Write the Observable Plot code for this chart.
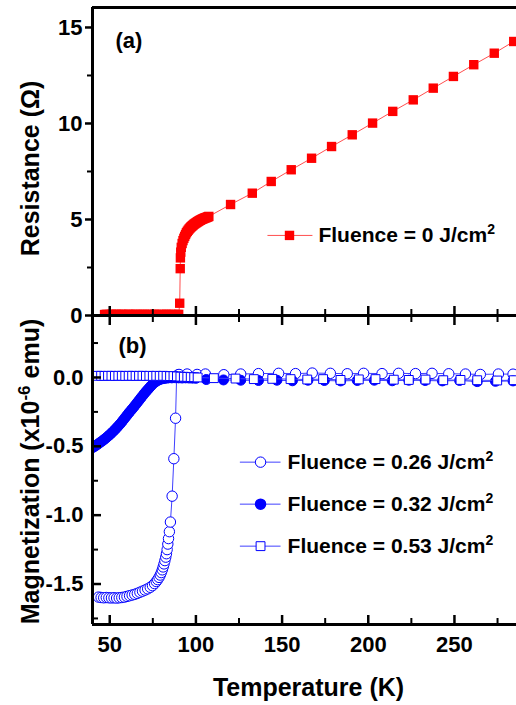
<!DOCTYPE html>
<html><head><meta charset="utf-8">
<script src="https://cdn.jsdelivr.net/npm/d3@7"></script>
<script src="https://cdn.jsdelivr.net/npm/@observablehq/plot@0.6"></script>
<style>
body{margin:0;background:#fff;}
#wrap{position:relative;width:516px;height:705px;overflow:hidden;background:#fff;}
#wrap svg{position:absolute;left:0;}
</style></head><body><div id="wrap"></div>
<script>
// ---------- DATA (Temperature K, value) ----------
// Panel (a): Resistance (Ohm), Fluence = 0 J/cm2
const fluence0 = [
 [47,0.05],[48,0.06],[49,0.05],[50,0.05],[51,0.06],[52,0.05],[53,0.05],[54,0.06],[55,0.05],[56,0.05],
 [57,0.06],[58,0.05],[59,0.05],[60,0.05],[61,0.06],[62,0.05],[63,0.05],[64,0.05],[65,0.06],[66,0.05],
 [67,0.05],[68,0.05],[69,0.05],[70,0.06],[71,0.05],[72,0.05],[73,0.05],[74,0.05],[75,0.05],[76,0.06],
 [77,0.05],[78,0.05],[79,0.05],[80,0.05],[81,0.05],[82,0.05],[83,0.06],[84,0.05],[85,0.05],[86,0.05],
 [87,0.05],[88,0.05],[89,0.05],[90,0.06],
 [90.6,0.64],[90.9,2.44],[91.0,3.0],[91.2,3.3],[91.5,3.55],[92,3.75],[92.5,3.9],[93,4.02],[93.5,4.12],
 [94,4.22],[94.5,4.31],[95,4.38],[95.5,4.44],[96,4.5],[96.5,4.55],[97,4.6],[97.5,4.64],[98,4.68],
 [98.5,4.72],[99,4.76],[99.5,4.79],[100,4.82],[100.5,4.85],[101,4.88],[101.5,4.91],[102,4.94],
 [102.5,4.96],[103,4.99],[103.5,5.01],[104,5.03],[104.5,5.05],[105,5.07],[105.5,5.09],[106,5.1],
 [106.5,5.12],[107,5.14],[107.5,5.16],
 [120.1,5.78],[132.7,6.37],[143.7,6.98],[155.3,7.59],[167.1,8.19],[178.7,8.80],[190.7,9.41],
 [202.5,10.02],[214.2,10.63],[226.1,11.23],[237.7,11.84],[249.4,12.45],[261.2,13.06],[273.1,13.66],[284.4,14.27]
];
// Panel (b): Magnetization (x1e-6 emu)
const fluence026 = [
 [43.5,-1.595],[45,-1.598],[46.5,-1.6],[48,-1.598],[49.5,-1.6],[51,-1.601],[52.5,-1.6],[54,-1.602],
 [55.5,-1.6],[57,-1.598],[58.5,-1.595],[60,-1.59],[61.5,-1.585],[63,-1.58],[64.5,-1.575],[66,-1.568],
 [67.5,-1.56],[69,-1.552],[70.5,-1.544],[72,-1.535],[73.5,-1.524],[74.8,-1.512],[76,-1.497],[77,-1.482],
 [77.8,-1.468],[78.6,-1.452],[79.3,-1.435],[79.9,-1.417],[80.5,-1.397],[81,-1.376],[81.5,-1.354],
 [82,-1.33],[82.5,-1.305],[82.9,-1.28],[83.3,-1.25],[83.7,-1.21],[84.1,-1.17],[84.6,-1.12],[85.2,-1.05],
 [86.2,-0.862],[87.2,-0.59],[88.2,-0.296],[88.8,0.005],[89.5,0.018],[90.2,0.022],[94.9,0.025],
 [100.7,0.022],[105.5,0.025],[116.2,0.02],[126,0.025],[136.3,0.028],[148,0.03],[157.8,0.028],
 [167.5,0.032],[178,0.03],[187.8,0.027],[197.3,0.03],[208,0.028],[217.6,0.03],[227.4,0.028],[237,0.03],
 [246.7,0.027],[256.4,0.025],[265,0.022],[275.5,0.025],[284,0.024]
];
const fluence032 = [
 [40,-0.51],[41,-0.502],[42,-0.494],[43,-0.485],[44,-0.476],[45,-0.467],[46,-0.458],[47,-0.448],
 [48,-0.438],[49,-0.427],[50,-0.416],[51,-0.404],[52,-0.392],[53,-0.379],[54,-0.366],[55,-0.352],
 [56,-0.338],[57,-0.323],[58,-0.307],[59,-0.291],[60,-0.275],[61,-0.259],[62,-0.244],[63,-0.229],
 [64,-0.214],[65,-0.198],[66,-0.182],[67,-0.166],[68,-0.15],[69,-0.134],[70,-0.118],[71,-0.103],
 [72,-0.089],[73,-0.075],[74,-0.061],[75,-0.047],[76,-0.036],[77,-0.028],[78,-0.021],[79,-0.015],
 [80,-0.011],[81,-0.008],[82,-0.006],[83,-0.004],[84,-0.003],[86,-0.003],[88,-0.002],[90,-0.003],
 [92,-0.004],[94,-0.003],[96,-0.004],[98,-0.005],[100,-0.006],
 [106,-0.015],[116,-0.018],[126,-0.02],[136.3,-0.022],[147,-0.02],[156,-0.024],[165,-0.02],
 [174.5,-0.022],[184,-0.025],[193.6,-0.022],[203.5,-0.02],[213.9,-0.024],[223.5,-0.02],[233,-0.022],
 [243,-0.025],[253,-0.022],[263.2,-0.03],[273.8,-0.028],[284,-0.025]
];
const fluence053 = [
 [43,0.012],[45,0.012],[47,0.011],[49,0.012],[51,0.012],[53,0.011],[55,0.012],[57,0.012],[59,0.011],
 [61,0.012],[63,0.012],[65,0.011],[67,0.012],[69,0.012],[71,0.011],[73,0.012],[75,0.011],[77,0.012],
 [79,0.011],[81,0.012],[83,0.011],[85,0.01],[87,0.01],[89,0.008],[91,0.006],[93,0.005],[95,0.004],
 [97,0.003],[99,0.002],[101,0.0],
 [110.4,-0.005],[123,-0.008],[133.6,-0.012],[144.3,-0.01],[154.9,-0.012],[164.6,-0.015],[173.8,-0.012],
 [183.9,-0.018],[194.5,-0.014],[204.2,-0.012],[214.8,-0.016],[223.5,-0.018],[233.2,-0.015],
 [243.5,-0.02],[253.5,-0.018],[263.2,-0.02],[274.8,-0.022],[284.4,-0.02]
];
// Axis ticks
const xMajor = [50,100,150,200,250];
const xMinor = [75,125,175,225,275];
const yMajorA = [0,5,10,15];
const yMinorA = [2.5,7.5,12.5];
const yMajorB = [0,-0.5,-1,-1.5];
const yMinorB = [0.25,-0.25,-0.75,-1.25,-1.75];
// Labels
const legendLabelsA = ["Fluence = 0 J/cm^{2}"];
const legendLabelsB = ["Fluence = 0.26 J/cm^{2}","Fluence = 0.32 J/cm^{2}","Fluence = 0.53 J/cm^{2}"];

// ---------- LAYOUT / STYLE ----------
const FONT = "'Liberation Sans', Arial, Helvetica, sans-serif";
const RED = "#ff0000", RED_LINE = "#ff3a3a";
const BLUE = "#0000ff", BLUE_LINE = "#4040ff";
const toObj = arr => arr.map(([T, v]) => ({T, v}));
const dA = toObj(fluence0);
const d026 = toObj(fluence026), d032 = toObj(fluence032), d053 = toObj(fluence053);

// legend placement in data units
const legA = [{y:4.17, x1:141.5, x2:167.6, xm:154.3, xt:171.1, label:legendLabelsA[0]}];
const legBy = [-0.615, -0.92, -1.225];
const legB = legendLabelsB.map((label,i)=>({y:legBy[i], x1:125.5, x2:149.1, xm:137.5, xt:153.2, label}));

const common = {
  width:516, marginLeft:92, marginRight:0,
  x:{domain:[40,286]},
  style:{fontFamily:FONT, fontWeight:"bold", color:"#000", background:"transparent", overflow:"visible"}
};
const bold = {fontFamily:FONT, fontWeight:"bold", fill:"#000"};

const A = Plot.plot({
  ...common, height:320, marginTop:7, marginBottom:5,
  y:{domain:[0,16.04]},
  marks:[
    Plot.line(dA, {x:"T", y:"v", stroke:RED_LINE, strokeWidth:0.9, clip:true}),
    Plot.dot(dA, {x:"T", y:"v", symbol:"square", r:5.3, fill:RED, stroke:"none", clip:true}),
    Plot.ruleX([40], {stroke:"#000", strokeWidth:3}),
    Plot.ruleY([16.04], {stroke:"#000", strokeWidth:3}),
    Plot.ruleY([0], {stroke:"#000", strokeWidth:3}),
    Plot.axisY({ticks:yMajorA, tickSize:7, tickPadding:3, strokeWidth:2.5, label:null, fontSize:22, ...bold, tickFormat:d=>String(d)}),
    Plot.axisY({ticks:yMinorA, tickSize:5, strokeWidth:2, label:null, tickFormat:()=>""}),
    Plot.axisX({ticks:xMajor, tickSize:9, dy:-9, strokeWidth:2.5, label:null, tickFormat:()=>""}),
    Plot.axisX({ticks:xMinor, tickSize:6, dy:-6, strokeWidth:2, label:null, tickFormat:()=>""}),
    Plot.text(["(a)"], {frameAnchor:"top-left", dx:23, dy:33, text:d=>d, textAnchor:"start", lineAnchor:"middle", fontSize:22, ...bold}),
    Plot.text(["Resistance (Ω)"], {frameAnchor:"left", dx:-62, dy:7, rotate:-90, text:d=>d, textAnchor:"middle", lineAnchor:"middle", fontSize:25, ...bold}),
    Plot.link(legA, {x1:"x1", x2:"x2", y1:"y", y2:"y", stroke:RED_LINE, strokeWidth:0.9}),
    Plot.dot(legA, {x:"xm", y:"y", symbol:"square", r:5.3, fill:RED}),
    Plot.text(legA, {x:"xt", y:"y", text:"label", textAnchor:"start", lineAnchor:"middle", fontSize:21, ...bold})
  ]
});

const B = Plot.plot({
  ...common, height:395, marginTop:5, marginBottom:81,
  y:{domain:[-1.794,0.45]},
  marks:[
    Plot.line(d026, {x:"T", y:"v", stroke:BLUE_LINE, strokeWidth:1, clip:true}),
    Plot.dot(d026, {x:"T", y:"v", r:5.2, fill:"#fff", stroke:BLUE, strokeWidth:1, clip:true}),
    Plot.line(d032, {x:"T", y:"v", stroke:BLUE_LINE, strokeWidth:1, clip:true}),
    Plot.dot(d032, {x:"T", y:"v", r:5, fill:BLUE, stroke:BLUE, strokeWidth:1, clip:true}),
    Plot.line(d053, {x:"T", y:"v", stroke:BLUE_LINE, strokeWidth:1, clip:true}),
    Plot.dot(d053, {x:"T", y:"v", symbol:"square", r:5, fill:"#fff", stroke:BLUE, strokeWidth:1, clip:true}),
    Plot.ruleX([40], {stroke:"#000", strokeWidth:3}),
    Plot.ruleY([0.45], {stroke:"#000", strokeWidth:3}),
    Plot.ruleY([-1.794], {stroke:"#000", strokeWidth:3}),
    Plot.axisY({ticks:yMajorB, tickSize:9, dx:9, strokeWidth:2.5, label:null, tickFormat:()=>""}),
    Plot.axisY({ticks:yMinorB, tickSize:6, dx:6, strokeWidth:2, label:null, tickFormat:()=>""}),
    Plot.axisY({ticks:yMajorB, tickSize:0, tickPadding:9, label:null, fontSize:22, ...bold, tickFormat:d=>d.toFixed(1)}),
    Plot.axisX({ticks:xMajor, tickSize:9, dy:-9, strokeWidth:2.5, label:null, tickFormat:()=>""}),
    Plot.axisX({ticks:xMinor, tickSize:6, dy:-6, strokeWidth:2, label:null, tickFormat:()=>""}),
    Plot.axisX({anchor:"top", ticks:xMajor, tickSize:9, dy:9, strokeWidth:2.5, label:null, tickFormat:()=>""}),
    Plot.axisX({anchor:"top", ticks:xMinor, tickSize:6, dy:6, strokeWidth:2, label:null, tickFormat:()=>""}),
    Plot.axisX({ticks:xMajor, tickSize:0, tickPadding:12, label:null, fontSize:22, ...bold, tickFormat:d=>String(d)}),
    Plot.text(["(b)"], {frameAnchor:"top-left", dx:26, dy:30, text:d=>d, textAnchor:"start", lineAnchor:"middle", fontSize:22, ...bold}),
    Plot.text(["Magnetization (x10^{-6} emu)"], {frameAnchor:"left", dx:-62, dy:1.5, rotate:-90, text:d=>d, textAnchor:"middle", lineAnchor:"middle", fontSize:25, ...bold}),
    Plot.text(["Temperature (K)"], {frameAnchor:"bottom", dx:4, dy:63, text:d=>d, textAnchor:"middle", lineAnchor:"middle", fontSize:25, ...bold}),
    Plot.link(legB, {x1:"x1", x2:"x2", y1:"y", y2:"y", stroke:BLUE_LINE, strokeWidth:1}),
    Plot.dot([legB[0]], {x:"xm", y:"y", r:5.2, fill:"#fff", stroke:BLUE, strokeWidth:1}),
    Plot.dot([legB[1]], {x:"xm", y:"y", r:5, fill:BLUE, stroke:BLUE}),
    Plot.dot([legB[2]], {x:"xm", y:"y", symbol:"square", r:5, fill:"#fff", stroke:BLUE, strokeWidth:1}),
    Plot.text(legB, {x:"xt", y:"y", text:"label", textAnchor:"start", lineAnchor:"middle", fontSize:21, ...bold})
  ]
});

const wrap = document.getElementById("wrap");
A.style.top = "0px";
B.style.top = "310px";
wrap.appendChild(A);
wrap.appendChild(B);

// superscripts: "pre^{sup}post" -> tspans
function supify(svg){
  const ns = "http://www.w3.org/2000/svg";
  svg.querySelectorAll("text").forEach(t=>{
    const s = t.textContent;
    const m = s.match(/^(.*?)\^\{(.*?)\}(.*)$/);
    if(!m) return;
    const fs = parseFloat(getComputedStyle(t).fontSize) || 22;
    const rise = Math.round(fs*0.36);
    t.textContent = "";
    const a = document.createElementNS(ns,"tspan"); a.textContent = m[1]; t.appendChild(a);
    const b = document.createElementNS(ns,"tspan"); b.textContent = m[2];
    b.setAttribute("font-size", Math.round(fs*0.66)); b.setAttribute("dy", -rise); t.appendChild(b);
    if(m[3]){ const c = document.createElementNS(ns,"tspan"); c.textContent = m[3]; c.setAttribute("dy", rise); t.appendChild(c); }
  });
}
supify(A); supify(B);
</script></body></html>
